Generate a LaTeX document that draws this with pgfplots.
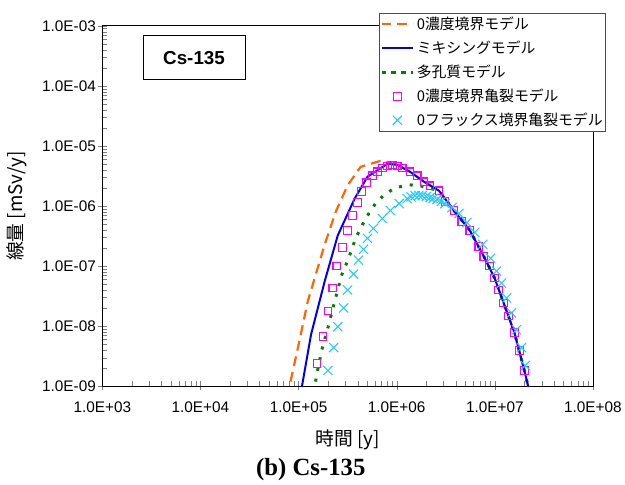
\documentclass[border=0pt]{standalone}
\usepackage{pgfplots}
\pgfplotsset{compat=1.18}
\usepackage{fontspec}
\setmainfont{Liberation Sans}
\newfontfamily\jp{Noto Sans CJK JP}
\newfontfamily\tnr{Liberation Serif}

\definecolor{orng}{HTML}{FF6600}
\definecolor{blu}{HTML}{0000F0}
\definecolor{grn}{HTML}{008000}
\definecolor{mag}{HTML}{FF00FF}
\definecolor{cyn}{HTML}{22CCFF}

\begin{document}
\begin{tikzpicture}
\begin{axis}[
    name=ax,
    scale only axis,
    width=494bp, height=363bp,
    xmode=log, ymode=log,
    xmin=1e3, xmax=1e8,
    ymin=1e-9, ymax=1e-3,
    xtick={1e3,1e4,1e5,1e6,1e7,1e8},
    xticklabels={1.0E+03,1.0E+04,1.0E+05,1.0E+06,1.0E+07,1.0E+08},
    ytick={1e-9,1e-8,1e-7,1e-6,1e-5,1e-4,1e-3},
    yticklabels={1.0E-09,1.0E-08,1.0E-07,1.0E-06,1.0E-05,1.0E-04,1.0E-03},
    tick label style={font=\fontsize{15.5}{17}\selectfont},
    xticklabel style={yshift=-12bp},
    yticklabel style={xshift=-3bp},
    tick pos=left,
    tick align=inside,
    major tick length=9bp, minor tick length=5bp,
    every major x tick/.append style={yshift=-4bp},
    every major y tick/.append style={xshift=-4bp},
    axis line style={line width=0.8pt},
    xlabel={\jp 時間 [y]},
    ylabel={\jp 線量 [mSv/y]},
    label style={font=\fontsize{19}{21}\selectfont},
    xlabel style={yshift=-10bp},
    ylabel style={yshift=8bp},
    legend cell align=left,
    legend style={at={(1.0263,1.0358)}, anchor=north east, draw=black!70,
        fill=white, font=\jp\fontsize{15}{17}\selectfont,
        inner xsep=1pt, inner ysep=2pt, row sep=6bp},
    legend image code/.code={\draw[mark repeat=2,mark phase=2]
        plot coordinates {(0bp,0bp) (16bp,0bp) (32bp,0bp)};},
]
\addlegendimage{color=orng, line width=2.2bp, dash pattern=on 10bp off 6bp}
\addlegendimage{color=blu, line width=2bp}
\addlegendimage{color=grn, line width=3bp, dash pattern=on 5bp off 5bp}
\addlegendimage{only marks, color=mag, mark=square, mark size=3.8bp, line width=1.1bp,
    mark options={draw=mag, fill=none}}
\addlegendimage{only marks, color=cyn, mark=x, mark size=6.5bp, line width=1.1bp,
    mark options={draw=cyn}}

% 0濃度境界モデル
\addplot[forget plot, color=orng, line width=2.2bp, dash pattern=on 10bp off 6bp] coordinates {
(7.65e4,6.61e-10)(9.86e4,4.42e-9)(1.245e5,2.64e-8)(1.84e5,2.25e-7)(2.40e5,8.12e-7)
(3.16e5,2.21e-6)(4.29e5,4.50e-6)(6.83e5,5.65e-6)(8.04e5,5.40e-6)(1.014e6,4.86e-6)
(1.37e6,3.72e-6)(1.90e6,2.54e-6)(2.70e6,1.80e-6)(3.83e6,8.45e-7)(5.56e6,3.94e-7)
(7.72e6,1.46e-7)(9.95e6,6.34e-8)(1.23e7,2.44e-8)(1.585e7,7.82e-9)(2.00e7,1.84e-9)
(2.20e7,9.62e-10)(2.29e7,6.31e-10)
};
% 多孔質モデル
\addplot[forget plot, color=grn, line width=3bp, dash pattern=on 3bp off 8bp] coordinates {
(1.43e5,7.94e-10)(1.54e5,1.64e-9)(1.73e5,4.10e-9)(2.03e5,1.06e-8)(2.34e5,2.64e-8)
(2.75e5,7.10e-8)(3.09e5,1.12e-7)(3.47e5,1.84e-7)(3.81e5,2.90e-7)(4.39e5,4.58e-7)
(5.04e5,6.97e-7)(6.07e5,1.10e-6)(7.48e5,1.55e-6)(9.68e5,2.02e-6)(1.34e6,2.26e-6)
(1.73e6,2.18e-6)(2.70e6,1.80e-6)(3.83e6,8.45e-7)(5.56e6,3.94e-7)(7.72e6,1.46e-7)
(9.95e6,6.34e-8)(1.23e7,2.44e-8)(1.585e7,7.82e-9)(2.00e7,1.84e-9)(2.20e7,9.62e-10)
(2.29e7,6.31e-10)
};
% ミキシングモデル
\addplot[forget plot, color=blu, line width=2bp] coordinates {
(1.057e5,7.96e-10)(1.34e5,7.25e-9)(1.85e5,5.65e-8)(2.51e5,3.25e-7)(3.73e5,1.33e-6)
(5.04e5,3.08e-6)(8.04e5,5.04e-6)(1.014e6,4.86e-6)(1.37e6,3.72e-6)(1.90e6,2.54e-6)
(2.70e6,1.80e-6)(3.83e6,8.45e-7)(5.56e6,3.94e-7)(7.72e6,1.46e-7)(9.95e6,6.34e-8)
(1.23e7,2.44e-8)(1.585e7,7.82e-9)(2.00e7,1.84e-9)(2.20e7,9.62e-10)(2.29e7,6.31e-10)
};
% 0濃度境界亀裂モデル
\addplot[forget plot, only marks, color=mag, mark=square, mark size=3.8bp, line width=1.1bp,
    mark options={draw=mag, fill=none}] coordinates {
(1.54e5,2.40e-9)(1.77e5,6.70e-9)(1.99e5,1.80e-8)(2.23e5,4.33e-8)(2.45e5,1.00e-7)
(2.81e5,2.06e-7)(3.16e5,3.94e-7)(3.56e5,6.97e-7)(3.99e5,1.14e-6)(4.39e5,1.74e-6)
(4.92e5,2.44e-6)(5.66e5,3.19e-6)(6.37e5,3.72e-6)(7.14e5,4.33e-6)(8.04e5,4.67e-6)
(9.02e5,4.86e-6)(1.014e6,4.67e-6)(1.14e6,4.33e-6)(1.37e6,3.72e-6)(1.62e6,3.19e-6)
(1.90e6,2.54e-6)(2.19e6,2.18e-6)(2.70e6,1.80e-6)(3.10e6,1.19e-6)(3.83e6,8.45e-7)
(4.61e6,5.55e-7)(5.56e6,3.94e-7)(6.86e6,2.14e-7)(7.72e6,1.46e-7)(8.85e6,1.00e-7)
(9.95e6,6.34e-8)(1.09e7,4.01e-8)(1.23e7,2.44e-8)(1.38e7,1.49e-8)(1.585e7,7.82e-9)
(1.78e7,3.94e-9)(2.00e7,1.84e-9)
};
% 0フラックス境界亀裂モデル
\addplot[forget plot, only marks, color=cyn, mark=x, mark size=6.5bp, line width=1.1bp,
    mark options={draw=cyn}] coordinates {
(1.99e5,1.84e-9)(2.28e5,4.42e-9)(2.51e5,9.82e-9)(2.88e5,2.02e-8)(3.16e5,4.01e-8)
(3.64e5,7.38e-8)(4.08e5,1.26e-7)(4.59e5,1.91e-7)(5.04e5,2.90e-7)(5.79e5,4.25e-7)
(7.14e5,6.21e-7)(8.61e5,8.45e-7)(1.06e6,1.10e-6)(1.28e6,1.33e-6)(1.40e6,1.42e-6)
(1.54e6,1.49e-6)(1.68e6,1.50e-6)(1.82e6,1.49e-6)(2.00e6,1.44e-6)(2.19e6,1.38e-6)
(2.35e6,1.34e-6)(2.58e6,1.28e-6)(2.85e6,1.19e-6)(3.10e6,1.10e-6)(3.66e6,9.44e-7)
(4.31e6,7.52e-7)(5.19e6,5.33e-7)(6.25e6,3.65e-7)(7.53e6,2.31e-7)(9.06e6,1.355e-7)
(1.04e7,8.26e-8)(1.17e7,5.24e-8)(1.32e7,2.96e-8)(1.48e7,1.67e-8)(1.66e7,8.75e-9)
(1.87e7,4.42e-9)(2.05e7,2.22e-9)
};

\node[draw, line width=0.8pt, minimum width=103bp, minimum height=44bp,
    font=\bfseries\fontsize{19}{21}\selectfont]
    at (rel axis cs:0.187,0.912) {Cs-135};

\legend{0濃度境界モデル, ミキシングモデル, 多孔質モデル, 0濃度境界亀裂モデル, 0フラックス境界亀裂モデル}
\end{axis}
\node[font=\tnr\bfseries\fontsize{25}{27}\selectfont] at ([xshift=-37bp,yshift=-84bp]ax.south) {(b) Cs-135};
\path ([xshift=-103bp,yshift=-96bp]ax.south west) rectangle ++(625bp,485bp);
\end{tikzpicture}
\end{document}
